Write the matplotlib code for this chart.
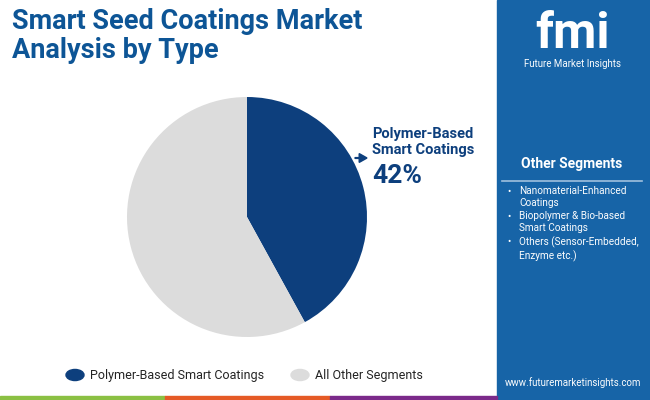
import matplotlib
matplotlib.use("Agg")
import matplotlib.pyplot as plt
from matplotlib.patches import Rectangle, Circle, FancyArrow

categories = ["Polymer-Based Smart Coatings", "All Other Segments"]
values = [42, 58]
colors = ["#0d3f7d", "#dcdcdc"]
other_segments = ["Nanomaterial-Enhanced\nCoatings", "Biopolymer & Bio-based\nSmart Coatings", "Others (Sensor-Embedded,\nEnzyme etc.)"]

fig = plt.figure(figsize=(6.5, 4), dpi=100)
fig.patch.set_facecolor("white")
F = "Roboto"
W, H = 650, 400
def fx(x): return x / W
def fy(y): return 1 - y / H

fig.patches.append(Rectangle((fx(497), 0), 1 - fx(497), 1, transform=fig.transFigure, color="#1764a7", zorder=0))
for x0, x1, c in [(0, 165, "#8bc043"), (165, 330, "#e55a26"), (330, 497, "#7b2a8a")]:
    fig.patches.append(Rectangle((fx(x0), 0), fx(x1 - x0), 4 / H, transform=fig.transFigure, color=c, zorder=1))

fig.text(fx(12), fy(36), "Smart Seed Coatings Market\nAnalysis by Type", fontsize=19.5, fontweight="bold",
         color="#0d5596", va="center", ha="left", family=F, linespacing=1.05)

ax = fig.add_axes([fx(127), fy(337), fx(240), 240 / H])
ax.pie(values, colors=colors, startangle=90, counterclock=False, radius=1)
ax.set_xlim(-1, 1); ax.set_ylim(-1, 1)
ax.set_aspect("equal")

fig.text(fx(372), fy(142), "Polymer-Based\nSmart Coatings", fontsize=10.5, fontweight="bold", color="#0d3f7d",
         va="center", ha="left", family=F, linespacing=1.1)
fig.text(fx(372), fy(176), "42%", fontsize=19, fontweight="bold", color="#0d3f7d", va="center", ha="left", family=F)
fig.add_artist(FancyArrow(fx(355), fy(158), fx(12), 0, width=0.002, head_width=0.022, head_length=0.012,
                          transform=fig.transFigure, color="#0d3f7d", length_includes_head=True))

for cx, c, lab in [(75, colors[0], categories[0]), (300, colors[1], categories[1])]:
    fig.patches.append(Circle((fx(cx), fy(375)), 9 / W, transform=fig.transFigure, color=c))
    fig.text(fx(cx + 15), fy(375), lab, fontsize=9, color="#222222", va="center", ha="left", family=F)

fig.text(fx(572), fy(34), "fmi", fontsize=36, fontweight="bold", color="white", ha="center", va="center", family=F)
fig.text(fx(572), fy(64), "Future Market Insights", fontsize=7, color="white", ha="center", va="center", family=F)
fig.text(fx(572), fy(164), "Other Segments", fontsize=10, fontweight="bold", color="white", ha="center", va="center", family=F)
fig.add_artist(plt.Line2D([fx(502), fx(642)], [fy(181), fy(181)], transform=fig.transFigure, color="#9fc0de", lw=1.2))
ys = [192, 217, 242]
for y, s in zip(ys, other_segments):
    fig.text(fx(507), fy(y), "•", fontsize=7, color="white", ha="left", va="center", family=F)
    fig.text(fx(519), fy(y - 6), s, fontsize=7.2, color="white", ha="left", va="top", family=F, linespacing=1.3)
fig.text(fx(573), fy(383), "www.futuremarketinsights.com", fontsize=7, color="white", ha="center", va="center", family=F)

fig.savefig("out.png", dpi=100)
